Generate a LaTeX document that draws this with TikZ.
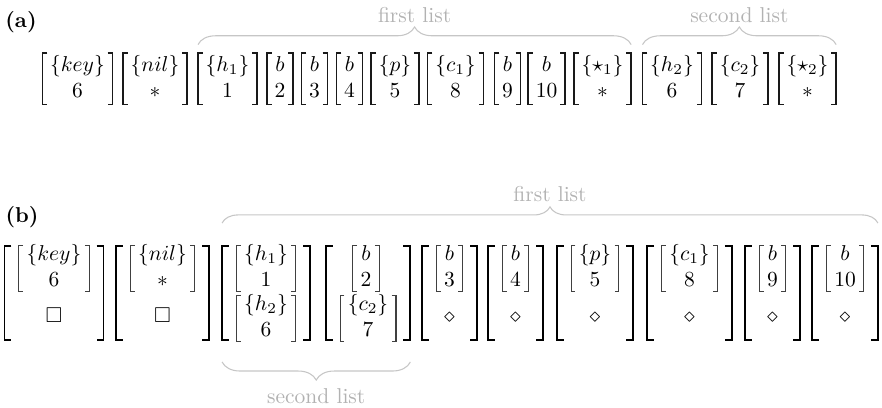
\documentclass[tikz,border=0pt]{standalone}
\usepackage{amsmath,amssymb}
\usetikzlibrary{decorations.pathreplacing,fit}
\newcommand\mm[2]{$#1$\strut\\$#2$\strut}
\newcommand\brkpair[4]{%
  \draw[#1] ([shift={(#4,#3)}]#2.west) -- ++(-#4,0) -- ++(0,-2*#3) -- ++(#4,0);
  \draw[#1] ([shift={(-#4,#3)}]#2.east) -- ++(#4,0) -- ++(0,-2*#3) -- ++(-#4,0);}
\begin{document}
\begin{tikzpicture}[x=0.4651pt,y=-0.4651pt,
  mat/.style={inner xsep=3.4pt, inner ysep=0pt, align=center},
  sym/.style={inner sep=0pt},
  outer/.style={inner xsep=6.5pt, inner ysep=0pt},
  brkA/.style={line width=0.65pt, black!90, line cap=butt, line join=miter},
  brkI/.style={line width=0.5pt, black!75, line cap=butt, line join=miter},
  brkB/.style={line width=0.9pt, black, line cap=butt, line join=miter},
  brc/.style={draw=gray!45, line width=0.5pt, decorate},
  lbl/.style={text=gray!60, inner sep=0pt},
  tag/.style={font=\bfseries, inner sep=0pt}]
\useasboundingbox (0,0) rectangle (882,408);

% ---------- (a) ----------
\node[tag] (ta) at (21,22.5) {(a)};
\node[mat] (a1)  at (77.5,79)  {\mm{\{key\}}{6}};
\node[mat] (a2)  at (155,79)   {\mm{\{nil\}}{*}};
\node[mat] (a3)  at (227.5,79) {\mm{\{h_1\}}{1}};
\node[mat] (a4)  at (280,79)   {\mm{b}{2}};
\node[mat] (a5)  at (314.5,79) {\mm{b}{3}};
\node[mat] (a6)  at (349.5,79) {\mm{b}{4}};
\node[mat] (a7)  at (395,79)   {\mm{\{p\}}{5}};
\node[mat] (a8)  at (455.5,79) {\mm{\{c_1\}}{8}};
\node[mat] (a9)  at (507.5,79) {\mm{b}{9}};
\node[mat] (a10) at (546.5,79) {\mm{b}{10}};
\node[mat] (a11) at (602.5,79) {\mm{\{\star_1\}}{*}};
\node[mat] (a12) at (672,79)   {\mm{\{h_2\}}{6}};
\node[mat] (a13) at (740,79)   {\mm{\{c_2\}}{7}};
\node[mat] (a14) at (807.5,79) {\mm{\{\star_2\}}{*}};
\foreach \i in {1,...,14} {\brkpair{brkA}{a\i}{12pt}{2.3pt}}

\draw[brc, decoration={brace,amplitude=8.2pt}]
  ([yshift=3.8pt]a3.north west) -- ([yshift=3.8pt]a11.north east)
  node[lbl, midway, above=10.1pt] {first list};
\draw[brc, decoration={brace,amplitude=8.2pt}]
  ([yshift=3.8pt]a12.north west) -- ([yshift=3.8pt]a14.north east)
  node[lbl, midway, above=10.1pt] {second list};

% ---------- (b) ----------
\node[tag] (tb) at (22,217.5) {(b)};
\coordinate (btop) at (0,246);
\coordinate (bbot) at (0,340);

\node[mat] (B1t) at (54,268.5)  {\mm{\{key\}}{6}};
\node[sym] (B1s) at (54,315)    {$\square$};
\node[mat] (B2t) at (162.5,268.5) {\mm{\{nil\}}{*}};
\node[sym] (B2s) at (162.5,315) {$\square$};
\node[mat] (B3t) at (266,268.5) {\mm{\{h_1\}}{1}};
\node[mat] (B3b) at (266,318.5) {\mm{\{h_2\}}{6}};
\node[mat] (B4t) at (366,268.5) {\mm{b}{2}};
\node[mat] (B4b) at (368,318.5) {\mm{\{c_2\}}{7}};
\node[mat] (B5t) at (449.5,268.5) {\mm{b}{3}};
\node[sym] (B5s) at (449.5,318) {$\diamond$};
\node[mat] (B6t) at (515.5,268.5) {\mm{b}{4}};
\node[sym] (B6s) at (515.5,318) {$\diamond$};
\node[mat] (B7t) at (595,268.5) {\mm{\{p\}}{5}};
\node[sym] (B7s) at (595,318)   {$\diamond$};
\node[mat] (B8t) at (689.5,268.5) {\mm{\{c_1\}}{8}};
\node[sym] (B8s) at (689.5,318) {$\diamond$};
\node[mat] (B9t) at (772.5,268.5) {\mm{b}{9}};
\node[sym] (B9s) at (772.5,318) {$\diamond$};
\node[mat] (B10t) at (845,268.5) {\mm{b}{10}};
\node[sym] (B10s) at (845,318)  {$\diamond$};

\foreach \n in {B1t,B2t,B3t,B3b,B4t,B4b,B5t,B6t,B7t,B8t,B9t,B10t}
  {\brkpair{brkI}{\n}{10.9pt}{2pt}}

\node[outer, fit=(B1t)] (B1) {};
\node[outer, fit=(B2t)] (B2) {};
\node[outer, fit=(B3t)(B3b)] (B3) {};
\node[outer, fit=(B4t)(B4b)] (B4) {};
\node[outer, fit=(B5t)] (B5) {};
\node[outer, fit=(B6t)] (B6) {};
\node[outer, fit=(B7t)] (B7) {};
\node[outer, fit=(B8t)] (B8) {};
\node[outer, fit=(B9t)] (B9) {};
\node[outer, fit=(B10t)] (B10) {};
\foreach \i in {1,...,10} {
  \draw[brkB] (B\i.west |- btop) ++(3.2pt,0) -- (B\i.west |- btop) -- (B\i.west |- bbot) -- ++(3.2pt,0);
  \draw[brkB] (B\i.east |- btop) ++(-3.2pt,0) -- (B\i.east |- btop) -- (B\i.east |- bbot) -- ++(-3.2pt,0);
}

\draw[brc, decoration={brace,amplitude=7.5pt}]
  (B3.west |- 0,223) -- (B10.east |- 0,223)
  node[lbl, midway, above=9.5pt] {first list};
\draw[brc, decoration={brace,amplitude=8.4pt}]
  (B4.east |- 0,362) -- (B3.west |- 0,362)
  node[lbl, midway, below=12.1pt] {second list};
\end{tikzpicture}
\end{document}
